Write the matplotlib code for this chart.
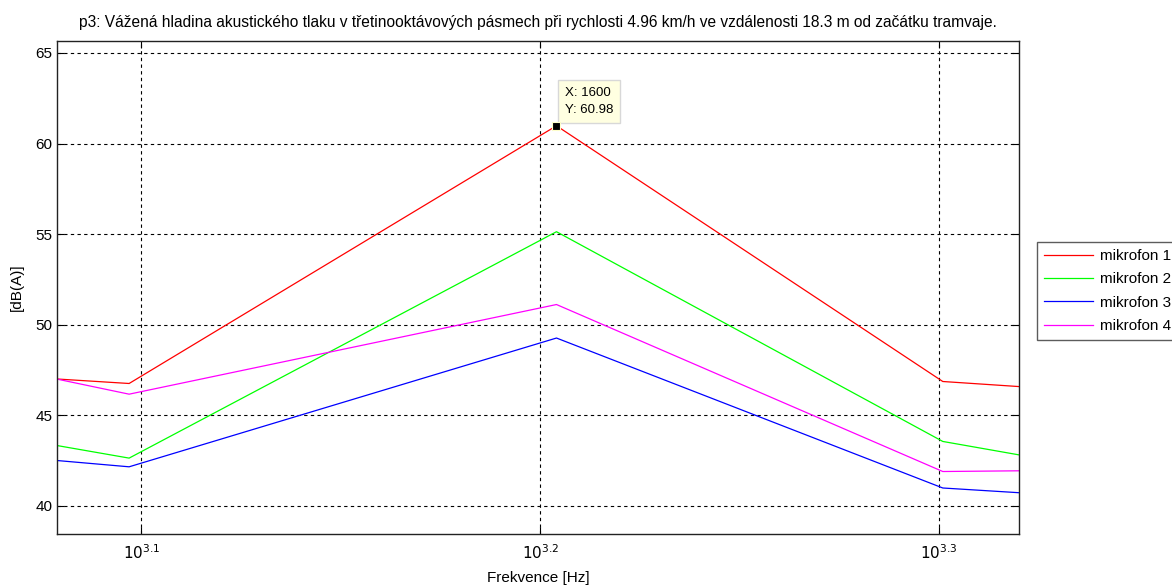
import matplotlib
matplotlib.use("Agg")
import matplotlib.pyplot as plt

plt.rcParams['font.family'] = ['Liberation Sans', 'DejaVu Sans']

freq = [1000, 1250, 1600, 2000, 2500]
mikrofon1 = [48.08, 46.75, 60.98, 46.86, 45.44]
mikrofon2 = [46.35, 42.63, 55.13, 43.55, 39.79]
mikrofon3 = [44.01, 42.15, 49.26, 40.98, 39.66]
mikrofon4 = [50.62, 46.16, 51.11, 41.89, 42.09]
labels = ['mikrofon 1', 'mikrofon 2', 'mikrofon 3', 'mikrofon 4']
colors = ['#ff0000', '#00ff00', '#0000ff', '#ff00ff']
xticks = [10**3.1, 10**3.2, 10**3.3]
xticklabels = ['$10^{3.1}$', '$10^{3.2}$', '$10^{3.3}$']
yticks = [40, 45, 50, 55, 60, 65]
tip_x, tip_y = 1600, 60.98

fig = plt.figure(figsize=(11.72, 5.85), dpi=100)
ax = fig.add_axes([57/1172, 1-534/585, (1019-57)/1172, (534-41)/585])

series = [mikrofon1, mikrofon2, mikrofon3, mikrofon4]
for s, lab, c in zip(series, labels, colors):
    ax.plot(freq, s, color=c, lw=0.9, label=lab)

ax.set_xscale('log')
ax.set_xlim(1199, 2090)
ax.set_ylim(38.44, 65.66)
ax.set_xticks(xticks)
ax.set_xticklabels(xticklabels)
ax.xaxis.set_minor_locator(matplotlib.ticker.NullLocator())
ax.set_yticks(yticks)
ax.tick_params(direction='in', top=True, right=True, labelsize=11, length=5, width=0.8)
ax.tick_params(axis='x', pad=7)
ax.grid(True, color='black', linestyle=(0, (3, 3)), lw=0.8)
for sp in ax.spines.values():
    sp.set_linewidth(1.0)
    sp.set_color('#222222')

ax.set_title('p3: Vážená hladina akustického tlaku v třetinooktávových pásmech při rychlosti 4.96 km/h ve vzdálenosti 18.3 m od začátku tramvaje.',
             fontsize=11.2, pad=10)
ax.set_xlabel('Frekvence [Hz]', fontsize=11, labelpad=6)
ax.set_ylabel('[dB(A)]', fontsize=11, labelpad=8)

# data tip
ax.plot([tip_x], [tip_y], marker='s', color='black', ms=6, mec='#ffffcc', mew=0.8, zorder=5)
ax.annotate(f'X: {tip_x}\nY: {tip_y}', xy=(tip_x, tip_y), xytext=(6, 7), textcoords='offset points',
            fontsize=9.5, va='bottom', ha='left', linespacing=1.6,
            bbox=dict(boxstyle='square,pad=0.5', fc='#ffffe1', ec='#d8d8d8', lw=1))

leg = fig.legend(loc='upper left', bbox_to_anchor=(1037/1172, 1-242/585), fontsize=11,
                 frameon=True, fancybox=False, edgecolor='#333333', borderpad=0.45,
                 labelspacing=0.62, handlelength=3.2, handletextpad=0.45, borderaxespad=0)
leg.get_frame().set_linewidth(1.0)

fig.savefig('out.png', dpi=100)
